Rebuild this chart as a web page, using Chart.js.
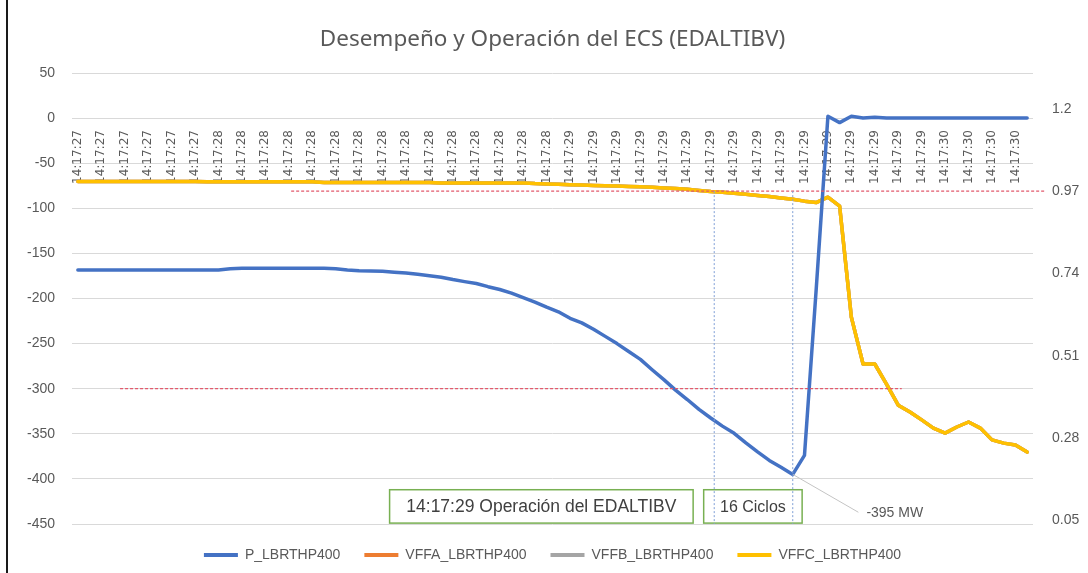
<!DOCTYPE html>
<html>
<head>
<meta charset="utf-8">
<title>Desempeño y Operación del ECS</title>
<script src="https://cdn.jsdelivr.net/npm/chart.js@4.4.1/dist/chart.umd.min.js"></script>
<style>
  html, body { margin: 0; padding: 0; background: #fff; }
  #wrap { position: relative; width: 1088px; height: 573px; }
  #edge { position: absolute; left: 6px; top: 0; width: 2px; height: 573px; background: #1a1a1a; }
</style>
</head>
<body>
<div id="wrap">
  <canvas id="ecsChart" width="1088" height="573"></canvas>
  <div id="edge"></div>
</div>
<script>
// samples per second on the time axis (every second sample gets a label)
const secondCounts = [['14:17:27', 12], ['14:17:28', 30], ['14:17:29', 32], ['14:17:30', 8]];
const times = secondCounts.flatMap(([t, n]) => Array(n).fill(t));

// P_LBRTHP400 (MW, left axis)
const pValues = [
  -168.5, -168.5, -168.5, -168.5, -168.5, -168.5, -168.5, -168.5, -168.5, -168.5,
  -168.5, -168.5, -168.5, -167, -166.5, -166.5, -166.5, -166.5, -166.5, -166.5,
  -166.5, -166.5, -167, -168.5, -169.3, -169.5, -169.8, -170.8, -171.8, -173.2,
  -174.8, -176.4, -179, -181.3, -183.4, -186.9, -190, -194, -199, -204,
  -209.6, -214.7, -222, -227, -234, -242, -250, -258.7, -267.5, -279,
  -290, -301.6, -312, -323, -332.5, -341.5, -349.5, -360, -370, -379.5,
  -387, -395, -374, -190, 2, -5, 2, 0, 1, 0,
  0, 0, 0, 0, 0, 0, 0, 0, 0, 0,
  0, 0
];

// VFFC_LBRTHP400 (p.u., right axis)
const vffcValues = [
  0.997, 0.997, 0.997, 0.997, 0.997, 0.997, 0.997, 0.997, 0.997, 0.997,
  0.997, 0.996, 0.996, 0.996, 0.996, 0.996, 0.996, 0.996, 0.996, 0.996,
  0.996, 0.994, 0.994, 0.994, 0.994, 0.994, 0.994, 0.994, 0.994, 0.994,
  0.994, 0.993, 0.993, 0.993, 0.993, 0.993, 0.993, 0.993, 0.993, 0.991,
  0.990, 0.989, 0.988, 0.987, 0.986, 0.985, 0.984, 0.983, 0.982, 0.981,
  0.979, 0.977, 0.975, 0.972, 0.969, 0.967, 0.964, 0.961, 0.958, 0.955,
  0.951, 0.947, 0.942, 0.938, 0.953, 0.928, 0.618, 0.487, 0.487, 0.431,
  0.372, 0.353, 0.331, 0.308, 0.294, 0.311, 0.325, 0.308, 0.275, 0.266,
  0.261, 0.241
];
// VFFA and VFFB sit under the VFFC trace in the picture
const vffaValues = vffcValues.slice();
const vffbValues = vffcValues.slice();

const rightTicks = [0.05, 0.28, 0.51, 0.74, 0.97, 1.2];
const voltLimit = 0.97;
const powerLimit = -300;
const eventStart = 54.3;   // sample index where operation starts
const eventMin = 61;       // sample index of the -395 MW minimum

const notes = {
  id: 'notes',
  afterDatasetsDraw(chart) {
    const { ctx, chartArea: area, scales: { x, y, y1 } } = chart;
    const seg = (x1, y1p, x2, y2p) => { ctx.beginPath(); ctx.moveTo(x1, y1p); ctx.lineTo(x2, y2p); ctx.stroke(); };
    ctx.save();

    // red limit lines
    ctx.strokeStyle = '#e2596c';
    ctx.lineWidth = 1.3;
    ctx.setLineDash([3, 2]);
    let py = y1.getPixelForValue(voltLimit);
    seg(x.getPixelForValue(18.2), py, area.right + 12, py);
    py = y.getPixelForValue(powerLimit);
    seg(x.getPixelForValue(3.6), py, x.getPixelForValue(70.3), py);

    // green boxes
    ctx.setLineDash([]);
    ctx.strokeStyle = '#78b052';
    ctx.lineWidth = 1.5;
    const top = y.getPixelForValue(-412), bot = y.getPixelForValue(-449);
    const boxes = [
      ['14:17:29 Operación del EDALTIBV', 26.6, 52.5, 17.5],
      ['16 Ciclos', 53.4, 61.8, 16]
    ];
    ctx.fillStyle = '#404040';
    ctx.textAlign = 'center';
    ctx.textBaseline = 'middle';
    boxes.forEach(([txt, a, b, size]) => {
      const l = x.getPixelForValue(a), r = x.getPixelForValue(b);
      ctx.strokeRect(l, top, r - l, bot - top);
      ctx.font = size + 'px "Liberation Sans"';
      ctx.fillText(txt, (l + r) / 2, (top + bot) / 2 + 1);
    });

    // blue dotted markers
    ctx.strokeStyle = '#7f9fd6';
    ctx.lineWidth = 1;
    ctx.setLineDash([2, 2]);
    [eventStart, eventMin].forEach(i => {
      const px = x.getPixelForValue(i);
      seg(px, y1.getPixelForValue(voltLimit), px, area.bottom);
    });

    // leader + label for the minimum
    ctx.setLineDash([]);
    ctx.strokeStyle = '#c4c4c4';
    const mx = x.getPixelForValue(eventMin), my = y.getPixelForValue(pValues[eventMin]);
    const lx = x.getPixelForValue(66.6), ly = y.getPixelForValue(-437);
    seg(mx, my, lx, ly);
    ctx.textAlign = 'left';
    ctx.fillStyle = '#595959';
    ctx.font = '14px "Liberation Sans"';
    ctx.fillText('-395 MW', lx + 8, ly + 1);
    ctx.restore();
  }
};

const tickFont = { family: 'Liberation Sans', size: 14 };
const ctx = document.getElementById('ecsChart').getContext('2d');
new Chart(ctx, {
  type: 'line',
  data: {
    labels: times,
    datasets: [
      { label: 'P_LBRTHP400', data: pValues, yAxisID: 'y', borderColor: '#4472C4', backgroundColor: '#4472C4', order: 0 },
      { label: 'VFFA_LBRTHP400', data: vffaValues, yAxisID: 'y1', borderColor: '#ED7D31', backgroundColor: '#ED7D31', order: 3 },
      { label: 'VFFB_LBRTHP400', data: vffbValues, yAxisID: 'y1', borderColor: '#A5A5A5', backgroundColor: '#A5A5A5', order: 2 },
      { label: 'VFFC_LBRTHP400', data: vffcValues, yAxisID: 'y1', borderColor: '#FFC000', backgroundColor: '#FFC000', order: 1 }
    ]
  },
  options: {
    responsive: false,
    animation: false,
    devicePixelRatio: 1,
    layout: { padding: { top: 0, bottom: 1, left: 0, right: 0 } },
    elements: {
      point: { radius: 0 },
      line: { borderWidth: 3.5, tension: 0, borderCapStyle: 'round', borderJoinStyle: 'round' }
    },
    scales: {
      x: {
        position: { y: 0 },
        offset: true,
        grid: { display: false, drawTicks: false },
        border: { display: false },
        ticks: {
          autoSkip: false, minRotation: 90, maxRotation: 90, padding: 12,
          color: '#595959', font: { family: 'DejaVu Sans', size: 12 },
          callback: function (v, i) { return i % 2 === 0 ? this.getLabelForValue(v) : ''; }
        },
        afterFit: s => { s.height = 0; }
      },
      y: {
        position: 'left', min: -450, max: 50,
        ticks: { stepSize: 50, padding: 17, color: '#595959', font: tickFont },
        grid: { color: '#d9d9d9', drawTicks: false },
        border: { display: false },
        afterFit: s => { s.width = 72; }
      },
      y1: {
        position: 'right', min: 0.04, max: 1.3,
        grid: { display: false, drawTicks: false },
        border: { display: false },
        ticks: { padding: 19, color: '#595959', font: tickFont, callback: v => String(v) },
        afterBuildTicks: s => { s.ticks = rightTicks.map(v => ({ value: v })); },
        afterFit: s => { s.width = 55; }
      }
    },
    plugins: {
      title: {
        display: true, fullSize: false,
        text: 'Desempeño y Operación del ECS (EDALTIBV)',
        color: '#595959',
        font: { family: 'Noto Sans', size: 22.5, weight: 'normal' },
        padding: { top: 26, bottom: 20 }
      },
      legend: {
        position: 'bottom', fullSize: false,
        labels: {
          boxWidth: 34, boxHeight: 4, padding: 24, color: '#595959',
          font: { family: 'Liberation Sans', size: 14 },
          sort: (a, b) => a.datasetIndex - b.datasetIndex,
          generateLabels(chart) {
            const items = Chart.defaults.plugins.legend.labels.generateLabels(chart);
            items.forEach(it => { it.lineWidth = 0; });
            return items;
          }
        }
      },
      tooltip: { enabled: false }
    }
  },
  plugins: [notes]
});
</script>
</body>
</html>
